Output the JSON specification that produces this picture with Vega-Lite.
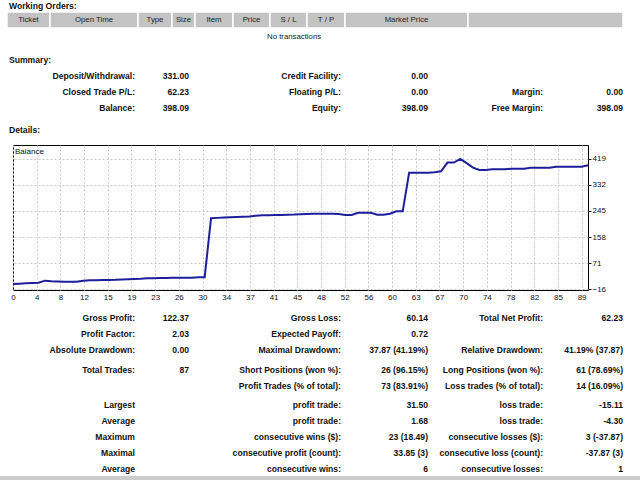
{
  "$schema": "https://vega.github.io/schema/vega-lite/v6.json",
  "padding": 0,
  "spacing": 0,
  "bounds": "flush",
  "background": "white",
  "resolve": {"scale": {"color": "independent"}, "legend": {"color": "independent"}},
  "config": {
    "view": {"stroke": null},
    "font": "Liberation Sans",
    "text": {"font": "Liberation Sans"}
  },
  "vconcat": [
    {
      "width": 627,
      "height": 50,
      "data": {"values": [
        {"k": "title", "t": "Working Orders:", "b": 0, "r": "title"},
        {"k": "cell", "t": "Ticket", "b0": 0, "b1": 1, "mid": 0.5, "r": "header"},
        {"k": "cell", "t": "Open Time", "b0": 1, "b1": 2, "mid": 1.5, "r": "header"},
        {"k": "cell", "t": "Type", "b0": 2, "b1": 3, "mid": 2.5, "r": "header"},
        {"k": "cell", "t": "Size", "b0": 3, "b1": 4, "mid": 3.5, "r": "header"},
        {"k": "cell", "t": "Item", "b0": 4, "b1": 5, "mid": 4.5, "r": "header"},
        {"k": "cell", "t": "Price", "b0": 5, "b1": 6, "mid": 5.5, "r": "header"},
        {"k": "cell", "t": "S / L", "b0": 6, "b1": 7, "mid": 6.5, "r": "header"},
        {"k": "cell", "t": "T / P", "b0": 7, "b1": 8, "mid": 7.5, "r": "header"},
        {"k": "cell", "t": "Market Price", "b0": 8, "b1": 9, "mid": 8.5, "r": "header"},
        {"k": "cell", "t": "", "b0": 9, "b1": 10, "mid": 9.5, "r": "header"},
        {"k": "note", "t": "No transactions", "b": 6, "r": "empty"}
      ]},
      "layer": [
        {
          "transform": [{"filter": "datum.k === 'cell'"}],
          "mark": {"type": "rect", "fill": "#c3c3c3", "stroke": "white", "strokeWidth": 1.5},
          "encoding": {
            "x": {"field": "b0", "type": "quantitative", "axis": null,
                  "scale": {"domain": [0,1,2,3,4,5,6,7,8,9,10], "range": [-6,37,125,159,182,220,257,294,332,455,610], "nice": false, "zero": false}},
            "x2": {"field": "b1"},
            "y": {"field": "r", "type": "nominal", "axis": null,
                  "scale": {"domain": ["title","header","empty"], "range": [-4,44], "paddingInner": 0, "paddingOuter": 0}}
          }
        },
        {
          "transform": [{"filter": "datum.k === 'cell'"}],
          "mark": {"type": "text", "align": "center", "baseline": "middle", "fontSize": 7.8, "color": "#222"},
          "encoding": {
            "x": {"field": "mid", "type": "quantitative", "axis": null,
                  "scale": {"domain": [0,1,2,3,4,5,6,7,8,9,10], "range": [-6,37,125,159,182,220,257,294,332,455,610], "nice": false, "zero": false}},
            "y": {"field": "r", "type": "nominal", "axis": null,
                  "scale": {"domain": ["title","header","empty"], "range": [-4,44], "paddingInner": 0, "paddingOuter": 0}},
            "text": {"field": "t"}
          }
        },
        {
          "transform": [{"filter": "datum.k === 'title'"}],
          "mark": {"type": "text", "align": "left", "baseline": "middle", "fontSize": 8.6, "fontWeight": "bold", "color": "#111", "dx": 2, "dy": 1.5},
          "encoding": {
            "x": {"field": "b", "type": "quantitative", "axis": null,
                  "scale": {"domain": [0,1,2,3,4,5,6,7,8,9,10], "range": [-6,37,125,159,182,220,257,294,332,455,610], "nice": false, "zero": false}},
            "y": {"field": "r", "type": "nominal", "axis": null,
                  "scale": {"domain": ["title","header","empty"], "range": [-4,44], "paddingInner": 0, "paddingOuter": 0}},
            "text": {"field": "t"}
          }
        },
        {
          "transform": [{"filter": "datum.k === 'note'"}],
          "mark": {"type": "text", "align": "left", "baseline": "middle", "fontSize": 7.8, "color": "#222", "dx": -3, "dy": 1},
          "encoding": {
            "x": {"field": "b", "type": "quantitative", "axis": null,
                  "scale": {"domain": [0,1,2,3,4,5,6,7,8,9,10], "range": [-6,37,125,159,182,220,257,294,332,455,610], "nice": false, "zero": false}},
            "y": {"field": "r", "type": "nominal", "axis": null,
                  "scale": {"domain": ["title","header","empty"], "range": [-4,44], "paddingInner": 0, "paddingOuter": 0}},
            "text": {"field": "t"}
          }
        }
      ]
    },
    {
      "width": 627,
      "height": 95,
      "data": {"values": [
        {"k": "sec", "c": -1, "r": 0, "t": "Summary:"},
        {"k": "cell", "c": 0, "r": 1, "t": "Deposit/Withdrawal:"},
        {"k": "cell", "c": 1, "r": 1, "t": "331.00"},
        {"k": "cell", "c": 2, "r": 1, "t": "Credit Facility:"},
        {"k": "cell", "c": 3, "r": 1, "t": "0.00"},
        {"k": "cell", "c": 0, "r": 2, "t": "Closed Trade P/L:"},
        {"k": "cell", "c": 1, "r": 2, "t": "62.23"},
        {"k": "cell", "c": 2, "r": 2, "t": "Floating P/L:"},
        {"k": "cell", "c": 3, "r": 2, "t": "0.00"},
        {"k": "cell", "c": 4, "r": 2, "t": "Margin:"},
        {"k": "cell", "c": 5, "r": 2, "t": "0.00"},
        {"k": "cell", "c": 0, "r": 3, "t": "Balance:"},
        {"k": "cell", "c": 1, "r": 3, "t": "398.09"},
        {"k": "cell", "c": 2, "r": 3, "t": "Equity:"},
        {"k": "cell", "c": 3, "r": 3, "t": "398.09"},
        {"k": "cell", "c": 4, "r": 3, "t": "Free Margin:"},
        {"k": "cell", "c": 5, "r": 3, "t": "398.09"},
        {"k": "sec", "c": -1, "r": 4, "t": "Details:"}
      ]},
      "encoding": {
        "x": {"field": "c", "type": "quantitative", "axis": null,
              "scale": {"domain": [-1,0,1,2,3,4,5], "range": [-4,122,176,328,415,530,610], "nice": false, "zero": false}},
        "y": {"field": "r", "type": "quantitative", "axis": null,
              "scale": {"domain": [0,1,2,3,4], "range": [10,26,42,58,80], "nice": false, "zero": false}},
        "text": {"field": "t"}
      },
      "layer": [
        {
          "transform": [{"filter": "datum.k === 'sec'"}],
          "mark": {"type": "text", "align": "left", "baseline": "middle", "fontSize": 8.6, "fontWeight": "bold", "color": "#111"}
        },
        {
          "transform": [{"filter": "datum.k === 'cell'"}],
          "mark": {"type": "text", "align": "right", "baseline": "middle", "fontSize": 8.6, "fontWeight": "bold", "color": "#111"}
        }
      ]
    },
    {
      "width": 575,
      "height": 145,
      "view": {"stroke": "#000", "strokeWidth": 1},
      "data": {"values": [
        {"i": 0, "b": 1}, {"i": 1, "b": 2}, {"i": 2, "b": 3}, {"i": 3, "b": 4}, {"i": 4, "b": 5},
        {"i": 5, "b": 12}, {"i": 6, "b": 10}, {"i": 7, "b": 9}, {"i": 8, "b": 8}, {"i": 9, "b": 8},
        {"i": 10, "b": 8}, {"i": 11, "b": 12}, {"i": 12, "b": 13}, {"i": 13, "b": 13.5}, {"i": 14, "b": 14},
        {"i": 15, "b": 14.5}, {"i": 16, "b": 15}, {"i": 17, "b": 16}, {"i": 18, "b": 17}, {"i": 19, "b": 17.5},
        {"i": 20, "b": 18}, {"i": 21, "b": 20}, {"i": 22, "b": 20}, {"i": 23, "b": 21}, {"i": 24, "b": 21},
        {"i": 25, "b": 21.5}, {"i": 26, "b": 21.5}, {"i": 27, "b": 22}, {"i": 28, "b": 22}, {"i": 29, "b": 23},
        {"i": 30, "b": 23.5}, {"i": 31, "b": 221}, {"i": 32, "b": 222}, {"i": 33, "b": 223}, {"i": 34, "b": 224},
        {"i": 35, "b": 225}, {"i": 36, "b": 226}, {"i": 37, "b": 227}, {"i": 38, "b": 229}, {"i": 39, "b": 230.5},
        {"i": 40, "b": 231}, {"i": 41, "b": 231.5}, {"i": 42, "b": 232}, {"i": 43, "b": 232.5}, {"i": 44, "b": 233},
        {"i": 45, "b": 234}, {"i": 46, "b": 235}, {"i": 47, "b": 236}, {"i": 48, "b": 236}, {"i": 49, "b": 236},
        {"i": 50, "b": 236}, {"i": 51, "b": 235}, {"i": 52, "b": 231.5}, {"i": 53, "b": 231.5}, {"i": 54, "b": 239},
        {"i": 55, "b": 239}, {"i": 56, "b": 239}, {"i": 57, "b": 232.5}, {"i": 58, "b": 232.5}, {"i": 59, "b": 236},
        {"i": 60, "b": 244}, {"i": 61, "b": 244}, {"i": 62, "b": 373}, {"i": 63, "b": 373}, {"i": 64, "b": 373},
        {"i": 65, "b": 373}, {"i": 66, "b": 375}, {"i": 67, "b": 378}, {"i": 68, "b": 407}, {"i": 69, "b": 407},
        {"i": 70, "b": 419}, {"i": 71, "b": 405}, {"i": 72, "b": 390}, {"i": 73, "b": 382}, {"i": 74, "b": 382},
        {"i": 75, "b": 384.5}, {"i": 76, "b": 384.5}, {"i": 77, "b": 384.5}, {"i": 78, "b": 386.5}, {"i": 79, "b": 386.5},
        {"i": 80, "b": 386.5}, {"i": 81, "b": 390}, {"i": 82, "b": 390}, {"i": 83, "b": 390}, {"i": 84, "b": 390},
        {"i": 85, "b": 393.3}, {"i": 86, "b": 393.3}, {"i": 87, "b": 393.3}, {"i": 88, "b": 393.3}, {"i": 89, "b": 393.3},
        {"i": 90, "b": 398.09}
      ]},
      "mark": {"type": "line", "strokeWidth": 2, "interpolate": "linear"},
      "encoding": {
        "x": {"field": "i", "type": "quantitative",
              "scale": {"domain": [0, 90], "nice": false, "zero": false},
              "axis": {"title": null, "values": [0, 3.7083, 7.4167, 11.125, 14.8333, 18.5417, 22.25, 25.9583, 29.6667, 33.375, 37.0833, 40.7917, 44.5, 48.2083, 51.9167, 55.625, 59.3333, 63.0417, 66.75, 70.4583, 74.1667, 77.875, 81.5833, 85.2917, 89],
                       "labelExpr": "['0','4','8','12','15','19','23','26','30','34','37','41','45','48','52','56','60','63','67','70','74','78','82','85','89'][round(datum.value*24/89)]",
                       "grid": true, "gridColor": "#c8c8c8", "gridDash": [2, 2], "domain": false, "ticks": false,
                       "labelPadding": 3, "labelFontSize": 8, "labelColor": "#111", "labelFont": "Liberation Sans", "labelOverlap": false, "labelFlush": false}},
        "y": {"field": "b", "type": "quantitative",
              "scale": {"domain": [-19.3, 465.8], "nice": false, "zero": false},
              "axis": {"title": null, "orient": "right", "values": [-16, 71, 158, 245, 332, 419],
                       "grid": true, "gridColor": "#c8c8c8", "gridDash": [2, 2], "domain": false,
                       "ticks": true, "tickSize": 3, "tickColor": "#000", "labelPadding": 1,
                       "labelFontSize": 8, "labelColor": "#111", "labelFont": "Liberation Sans", "labelOverlap": false, "labelFlush": false}},
        "color": {"datum": "Balance", "type": "nominal",
                  "scale": {"range": ["#1e1e9c"]},
                  "legend": {"orient": "none", "legendX": -6, "legendY": 3, "title": null,
                             "symbolSize": 0, "symbolOpacity": 0, "symbolStrokeWidth": 0, "labelOffset": 0, "padding": 0,
                             "labelFontSize": 8, "labelColor": "#111", "labelFont": "Liberation Sans"}}
      }
    },
    {
      "width": 627,
      "height": 190,
      "data": {"values": [
        {"k": "band", "c0": -1, "c1": 6, "r0": 10, "r1": 11},
        {"k": "cell", "c": 0, "r": 0, "t": "Gross Profit:"},
        {"k": "cell", "c": 1, "r": 0, "t": "122.37"},
        {"k": "cell", "c": 2, "r": 0, "t": "Gross Loss:"},
        {"k": "cell", "c": 3, "r": 0, "t": "60.14"},
        {"k": "cell", "c": 4, "r": 0, "t": "Total Net Profit:"},
        {"k": "cell", "c": 5, "r": 0, "t": "62.23"},
        {"k": "cell", "c": 0, "r": 1, "t": "Profit Factor:"},
        {"k": "cell", "c": 1, "r": 1, "t": "2.03"},
        {"k": "cell", "c": 2, "r": 1, "t": "Expected Payoff:"},
        {"k": "cell", "c": 3, "r": 1, "t": "0.72"},
        {"k": "cell", "c": 0, "r": 2, "t": "Absolute Drawdown:"},
        {"k": "cell", "c": 1, "r": 2, "t": "0.00"},
        {"k": "cell", "c": 2, "r": 2, "t": "Maximal Drawdown:"},
        {"k": "cell", "c": 3, "r": 2, "t": "37.87 (41.19%)"},
        {"k": "cell", "c": 4, "r": 2, "t": "Relative Drawdown:"},
        {"k": "cell", "c": 5, "r": 2, "t": "41.19% (37.87)"},
        {"k": "cell", "c": 0, "r": 3, "t": "Total Trades:"},
        {"k": "cell", "c": 1, "r": 3, "t": "87"},
        {"k": "cell", "c": 2, "r": 3, "t": "Short Positions (won %):"},
        {"k": "cell", "c": 3, "r": 3, "t": "26 (96.15%)"},
        {"k": "cell", "c": 4, "r": 3, "t": "Long Positions (won %):"},
        {"k": "cell", "c": 5, "r": 3, "t": "61 (78.69%)"},
        {"k": "cell", "c": 2, "r": 4, "t": "Profit Trades (% of total):"},
        {"k": "cell", "c": 3, "r": 4, "t": "73 (83.91%)"},
        {"k": "cell", "c": 4, "r": 4, "t": "Loss trades (% of total):"},
        {"k": "cell", "c": 5, "r": 4, "t": "14 (16.09%)"},
        {"k": "cell", "c": 0, "r": 5, "t": "Largest"},
        {"k": "cell", "c": 2, "r": 5, "t": "profit trade:"},
        {"k": "cell", "c": 3, "r": 5, "t": "31.50"},
        {"k": "cell", "c": 4, "r": 5, "t": "loss trade:"},
        {"k": "cell", "c": 5, "r": 5, "t": "-15.11"},
        {"k": "cell", "c": 0, "r": 6, "t": "Average"},
        {"k": "cell", "c": 2, "r": 6, "t": "profit trade:"},
        {"k": "cell", "c": 3, "r": 6, "t": "1.68"},
        {"k": "cell", "c": 4, "r": 6, "t": "loss trade:"},
        {"k": "cell", "c": 5, "r": 6, "t": "-4.30"},
        {"k": "cell", "c": 0, "r": 7, "t": "Maximum"},
        {"k": "cell", "c": 2, "r": 7, "t": "consecutive wins ($):"},
        {"k": "cell", "c": 3, "r": 7, "t": "23 (18.49)"},
        {"k": "cell", "c": 4, "r": 7, "t": "consecutive losses ($):"},
        {"k": "cell", "c": 5, "r": 7, "t": "3 (-37.87)"},
        {"k": "cell", "c": 0, "r": 8, "t": "Maximal"},
        {"k": "cell", "c": 2, "r": 8, "t": "consecutive profit (count):"},
        {"k": "cell", "c": 3, "r": 8, "t": "33.85 (3)"},
        {"k": "cell", "c": 4, "r": 8, "t": "consecutive loss (count):"},
        {"k": "cell", "c": 5, "r": 8, "t": "-37.87 (3)"},
        {"k": "cell", "c": 0, "r": 9, "t": "Average"},
        {"k": "cell", "c": 2, "r": 9, "t": "consecutive wins:"},
        {"k": "cell", "c": 3, "r": 9, "t": "6"},
        {"k": "cell", "c": 4, "r": 9, "t": "consecutive losses:"},
        {"k": "cell", "c": 5, "r": 9, "t": "1"}
      ]},
      "layer": [
        {
          "transform": [{"filter": "datum.k === 'band'"}],
          "mark": {"type": "rect", "fill": "#cccccc"},
          "encoding": {
            "x": {"field": "c0", "type": "quantitative", "axis": null,
                  "scale": {"domain": [-1,0,1,2,3,4,5,6], "range": [-13,122,176,328,415,530,610,627], "nice": false, "zero": false}},
            "x2": {"field": "c1"},
            "y": {"field": "r0", "type": "quantitative", "axis": null,
                  "scale": {"domain": [0,1,2,3,4,5,6,7,8,9,10,11], "range": [28,44,60,80,96,115,131,147,163,179,186,190], "nice": false, "zero": false}},
            "y2": {"field": "r1"}
          }
        },
        {
          "transform": [{"filter": "datum.k === 'cell'"}],
          "mark": {"type": "text", "align": "right", "baseline": "middle", "fontSize": 8.6, "fontWeight": "bold", "color": "#111"},
          "encoding": {
            "x": {"field": "c", "type": "quantitative", "axis": null,
                  "scale": {"domain": [-1,0,1,2,3,4,5,6], "range": [-13,122,176,328,415,530,610,627], "nice": false, "zero": false}},
            "y": {"field": "r", "type": "quantitative", "axis": null,
                  "scale": {"domain": [0,1,2,3,4,5,6,7,8,9,10,11], "range": [28,44,60,80,96,115,131,147,163,179,186,190], "nice": false, "zero": false}},
            "text": {"field": "t"}
          }
        }
      ]
    }
  ]
}
